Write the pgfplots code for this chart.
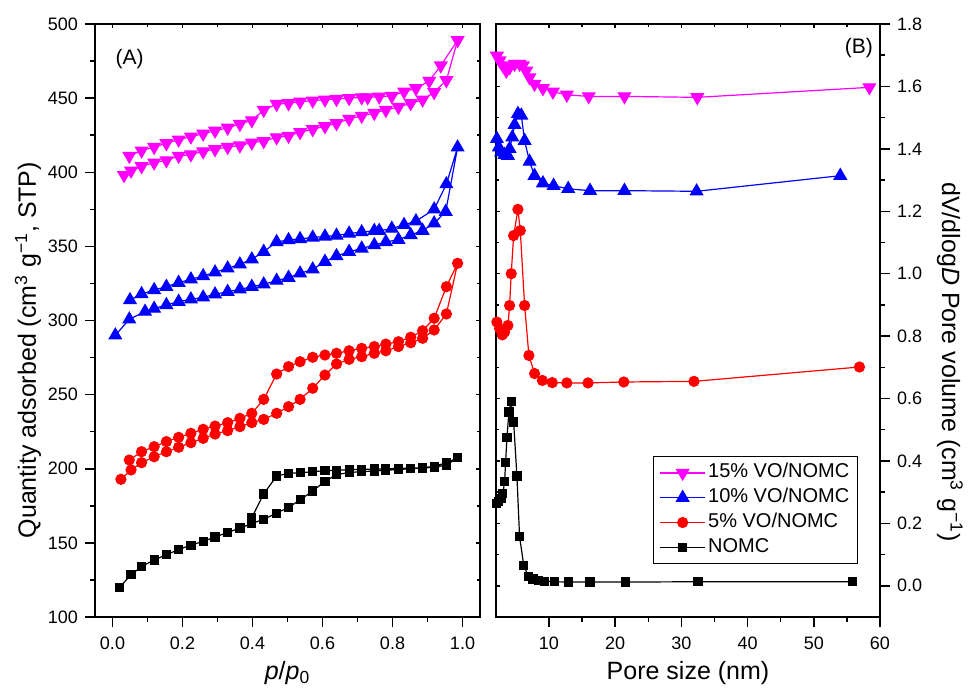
\documentclass[border=0pt]{standalone}
\usepackage{fontspec}
\setmainfont{Liberation Sans}
\usepackage{pgfplots}
\pgfplotsset{compat=1.18}
\definecolor{cmag}{RGB}{255,0,255}
\definecolor{cblue}{RGB}{0,0,255}
\definecolor{cred}{RGB}{255,0,0}
\pgfplotsset{
  base/.style={scale only axis, anchor=south west,
    axis line style={line width=1pt},
    every tick/.style={black, line width=0.75pt},
    tick label style={font=\fontsize{9}{10}\selectfont},
    /pgf/number format/assume math mode=true,
    label style={font=\fontsize{12.5}{14}\selectfont}},
  mirror/.style={base, tick align=inside, major tick length=2pt, minor tick length=1.5pt,
    xticklabel style={opacity=0}, yticklabel style={opacity=0}},
  ser/.style={line width=0.6pt, mark options={solid}},
}
\begin{document}
\begin{tikzpicture}
\useasboundingbox (0,0) rectangle (484pt,343.5pt);
% ---------------- Panel A ----------------
\begin{axis}[mirror, at={(47.5pt,35pt)}, width=192.5pt, height=296.5pt,
  xmin=-0.05, xmax=1.05, ymin=100, ymax=500,
  xtick={0,0.2,0.4,0.6,0.8,1}, minor x tick num=1,
  ytick={100,150,...,500}, minor y tick num=1,
  xtick pos=right, ytick pos=right]
\end{axis}
\begin{axis}[base, at={(47.5pt,35pt)}, width=192.5pt, height=296.5pt,
  xmin=-0.05, xmax=1.05, ymin=100, ymax=500,
  xtick={0,0.2,0.4,0.6,0.8,1}, minor x tick num=1,
  ytick={100,150,...,500}, minor y tick num=1,
  tick align=outside, major tick length=5pt, minor tick length=2.5pt,
  xtick pos=left, ytick pos=left,
  xticklabel style={yshift=-1.5pt, /pgf/number format/.cd, fixed, fixed zerofill, precision=1},
  xlabel={\textit{p}/\textit{p}\textsubscript{0}},
  ylabel={Quantity adsorbed (cm\textsuperscript{3} g\textsuperscript{−1}, STP)},
  xlabel style={at={(axis description cs:0.5,-0.094)}, anchor=center},
  ylabel style={at={(axis description cs:-0.174,0.45)}, anchor=center}]
% NOMC
\addplot[ser, black, mark=square*, mark size=2pt] coordinates {
(0.020,120) (0.053,128.5) (0.083,134) (0.119,138.5) (0.154,142) (0.189,145.5)
(0.224,148.5) (0.259,151) (0.293,154) (0.329,157) (0.364,160) (0.398,163)
(0.432,166) (0.469,170) (0.503,174) (0.536,179) (0.572,185) (0.607,191.5)
(0.640,196) (0.676,197.5) (0.712,198) (0.748,198.5) (0.781,199) (0.817,199.5)
(0.852,200) (0.886,200.5) (0.919,201) (0.954,202.5) (0.986,207.4)
(0.954,204) (0.919,201.7) (0.886,200.6) (0.852,200.4) (0.817,200.2) (0.781,200)
(0.748,199.8) (0.712,199.6) (0.676,199.3) (0.640,199) (0.607,198.7) (0.572,198)
(0.536,197.3) (0.503,196.9) (0.469,195.1) (0.432,183) (0.398,167)
};
% 5%
\addplot[ser, cred, mark=*, mark size=2.5pt] coordinates {
(0.024,192.9) (0.053,199.2) (0.083,204.1) (0.119,208.1) (0.154,211.5) (0.189,214.5)
(0.224,217.6) (0.259,220.5) (0.293,223.4) (0.329,225.7) (0.364,228.4) (0.398,231.1)
(0.432,233.3) (0.469,237.4) (0.503,241.9) (0.536,246.8) (0.572,254.3) (0.607,263.2)
(0.640,270.7) (0.676,273.8) (0.712,275.6) (0.748,277.9) (0.781,279.6) (0.817,282.4)
(0.852,285) (0.886,288) (0.919,293.6) (0.954,304.4) (0.986,338.6)
(0.954,322.8) (0.919,301.5) (0.886,293.1) (0.852,288.7) (0.817,285.7) (0.781,284.1)
(0.748,282.4) (0.712,281.2) (0.676,279.6) (0.640,277.9) (0.607,276.7) (0.572,275.2)
(0.536,272.2) (0.503,268.9) (0.469,263.9) (0.432,246.8) (0.398,237.4) (0.364,234)
(0.329,231.1) (0.293,228.8) (0.259,226.6) (0.224,223.9) (0.189,221.2) (0.154,218.3)
(0.119,214.9) (0.083,211.5) (0.048,205.9)
};
% 10%
\addplot[ser, cblue, mark=triangle*, mark size=3.5pt] coordinates {
(0.008,290) (0.048,300.8) (0.093,306) (0.119,308) (0.154,310.5) (0.189,312.7)
(0.224,314.3) (0.259,315.6) (0.293,317.7) (0.329,319.4) (0.364,321) (0.398,322.8)
(0.432,324.4) (0.469,326.9) (0.503,328.9) (0.536,331.8) (0.572,334.5) (0.607,339.7)
(0.640,343.5) (0.676,346.4) (0.712,348.6) (0.748,350.9) (0.781,353) (0.817,354.5)
(0.852,357.7) (0.886,360.6) (0.919,365.6) (0.952,373.4) (0.986,416.8)
(0.954,392) (0.919,375) (0.867,367) (0.833,364.5) (0.798,362) (0.762,360.5)
(0.748,360.5) (0.712,359.6) (0.676,358.7) (0.640,357.3) (0.607,356.7) (0.572,356)
(0.536,355) (0.503,354.3) (0.469,353) (0.432,346.4) (0.398,341.3) (0.364,337.9)
(0.329,335.2) (0.293,332.5) (0.259,330) (0.224,327.8) (0.189,325.5) (0.154,322.8)
(0.119,320.6) (0.083,317.9) (0.050,313.8)
};
% 15%
\addplot[ser, cmag, mark=triangle*, mark size=3.5pt, mark options={rotate=180}] coordinates {
(0.033,398) (0.053,401) (0.083,404) (0.119,406.5) (0.154,408) (0.189,411)
(0.224,412) (0.259,414) (0.293,415.5) (0.329,417) (0.364,418) (0.398,420)
(0.432,421) (0.469,423.5) (0.503,424.5) (0.536,427) (0.572,429) (0.607,431)
(0.640,433) (0.676,436) (0.712,438) (0.748,440) (0.781,442) (0.817,444)
(0.852,446.5) (0.886,449) (0.919,454) (0.954,462) (0.986,489)
(0.938,472) (0.905,461.6) (0.867,456.6) (0.833,454.4) (0.798,451.4) (0.762,451)
(0.729,450.5) (0.712,450.5) (0.676,450) (0.640,449.4) (0.607,449) (0.572,448.3)
(0.536,447.6) (0.503,446.5) (0.469,446) (0.432,442) (0.398,435) (0.364,432.5)
(0.329,430) (0.293,428) (0.259,426) (0.224,424) (0.189,422) (0.154,419.5)
(0.119,417) (0.083,414.6) (0.048,411)
};
\node[font=\fontsize{10.5}{12}\selectfont] at (axis cs:0.049,476.4) {(A)};
\end{axis}
% ---------------- Panel B ----------------
\begin{axis}[mirror, at={(248pt,35pt)}, width=192pt, height=296.5pt,
  xmin=2, xmax=60, ymin=-0.1, ymax=1.8,
  xtick={10,20,...,60}, minor x tick num=1,
  ytick={0,0.2,0.4,0.6,0.8,1.0,1.2,1.4,1.6,1.8}, minor y tick num=1,
  xtick pos=right, ytick pos=left]
\end{axis}
\begin{axis}[base, at={(248pt,35pt)}, width=192pt, height=296.5pt,
  xmin=2, xmax=60, ymin=-0.1, ymax=1.8,
  xtick={10,20,...,60}, minor x tick num=1,
  ytick={0,0.2,0.4,0.6,0.8,1.0,1.2,1.4,1.6,1.8}, minor y tick num=1,
  tick align=outside, major tick length=5pt, minor tick length=2.5pt,
  xtick pos=left, ytick pos=right, yticklabel pos=right,
  xticklabel style={yshift=-1.5pt},
  yticklabel style={/pgf/number format/.cd, fixed, fixed zerofill, precision=1},
  xlabel={Pore size (nm)},
  ylabel={dV/dlog\textit{D} Pore volume (cm\textsuperscript{3} g\textsuperscript{−1})},
  xlabel style={at={(axis description cs:0.5,-0.094)}, anchor=center},
  ylabel style={at={(axis description cs:1.182,0.43)}, anchor=center, rotate=180},
  reverse legend, legend cell align=left,
  legend style={at={(0.409,0.2715)}, anchor=north west, draw=black, line width=0.5pt,
    font=\fontsize{10}{12}\selectfont, row sep=0pt,
    nodes={inner sep=1.2pt, text height=7.5pt, text depth=2.5pt}},
  legend image code/.code={\draw[#1, mark repeat=2, mark phase=2] plot coordinates {(0pt,0pt) (11.25pt,0pt) (22.5pt,0pt)};}]
\addplot[ser, black, mark=square*, mark size=2pt] coordinates {
(2.13,0.263) (2.4,0.27) (2.79,0.279) (3.04,0.295) (3.3,0.335) (3.45,0.395)
(3.65,0.474) (3.95,0.557) (4.3,0.591) (4.66,0.525) (5.16,0.352) (5.56,0.157)
(6.2,0.065) (6.9,0.03) (7.6,0.022) (8.4,0.018) (9.3,0.015) (10.8,0.013)
(12.9,0.012) (16.2,0.012) (21.6,0.012) (32.5,0.013) (55.8,0.013)
};
\addlegendentry{NOMC}
\addplot[ser, cred, mark=*, mark size=2.5pt] coordinates {
(2.13,0.845) (2.54,0.824) (2.95,0.804) (3.3,0.813) (3.8,0.834) (4.05,0.898)
(4.3,1.0) (4.66,1.122) (5.31,1.206) (5.67,1.138) (6.32,0.898) (6.97,0.738)
(7.83,0.680) (9.0,0.658) (10.5,0.651) (12.7,0.650) (15.9,0.650) (21.3,0.653)
(31.9,0.655) (56.9,0.701)
};
\addlegendentry{5\% VO/NOMC}
\addplot[ser, cblue, mark=triangle*, mark size=3.5pt] coordinates {
(2.13,1.432) (2.43,1.405) (2.78,1.389) (3.29,1.381) (3.8,1.378) (4.05,1.400)
(4.46,1.437) (4.81,1.477) (5.31,1.512) (5.82,1.507) (6.32,1.426) (7.07,1.359)
(7.82,1.314) (9.09,1.290) (10.7,1.282) (12.9,1.272) (16.2,1.266) (21.4,1.266)
(32.3,1.264) (54.0,1.314)
};
\addlegendentry{10\% VO/NOMC}
\addplot[ser, cmag, mark=triangle*, mark size=3.5pt, mark options={rotate=180}] coordinates {
(2.13,1.698) (2.54,1.683) (3.04,1.667) (3.55,1.650) (4.05,1.661) (4.81,1.672)
(5.56,1.672) (6.06,1.667) (6.56,1.650) (7.06,1.629) (7.82,1.608) (9.09,1.594)
(10.6,1.583) (12.7,1.573) (16.0,1.568) (21.4,1.568) (32.4,1.565) (58.4,1.597)
};
\addlegendentry{15\% VO/NOMC}
\node[font=\fontsize{10.5}{12}\selectfont] at (axis cs:56.8,1.723) {(B)};
\end{axis}
\end{tikzpicture}
\end{document}
